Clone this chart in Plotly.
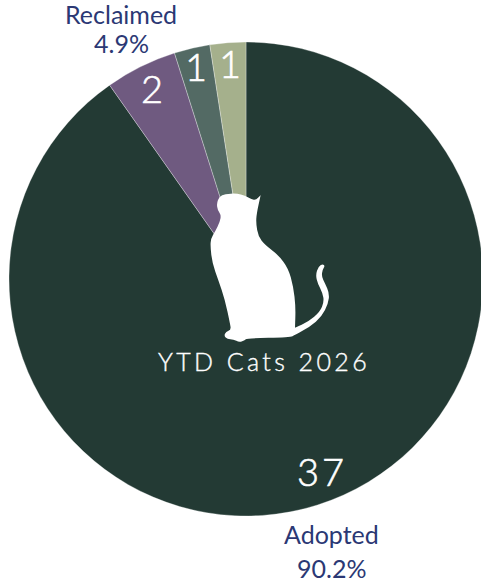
import plotly.graph_objects as go

outcomes = ["Adopted", "Reclaimed", "Outcome 3", "Outcome 4"]
counts = [37, 2, 1, 1]
slice_colors = ["#233a34", "#6f5a80", "#536a64", "#a5b08c"]
center_title = "YTD Cats 2026"
outside_names = ["Adopted", "Reclaimed"]
outside_shares = ["90.2%", "4.9%"]

W, H = 483, 583

def px(x): return x / W
def py(y): return 1 - y / H

# Cat outline, traced in pixels of the picture
cat = [(332,45),(332,45),(318,60),(305,58),(285,47),(260,40),(225,42),(208,50),(200,70),(203,90),(213,105),(210,125),
       (195,155),(183,175),(181,200),(187,250),(205,300),(225,360),(240,430),(243,450),(228,455),(222,468),
       (232,477),(250,478),(268,487),(285,480),(290,475),(420,472),(435,465),(480,440),(515,410),(535,370),
       (538,340),(525,310),(515,290),(517,270),(525,258),(518,252),(505,260),(497,285),(503,310),(518,340),
       (522,365),(510,395),(475,425),(435,443),(435,443),(437,380),(430,320),(415,265),(385,225),(345,195),(325,170),
       (318,130),(320,100),(332,45)]
pts = [(150 + a / 3, 180 + b / 3) for a, b in cat]
path = f"M {px(pts[0][0]):.5f} {py(pts[0][1]):.5f}"
for i in range(1, len(pts) - 1):
    mx = (pts[i][0] + pts[i + 1][0]) / 2
    my = (pts[i][1] + pts[i + 1][1]) / 2
    path += f" Q {px(pts[i][0]):.5f} {py(pts[i][1]):.5f} {px(mx):.5f} {py(my):.5f}"
path += f" L {px(pts[-1][0]):.5f} {py(pts[-1][1]):.5f} Z"

fig = go.Figure(go.Pie(
    labels=outcomes, values=counts, sort=False, direction="clockwise", rotation=0,
    marker=dict(colors=slice_colors, line=dict(color="rgba(255,255,255,0.6)", width=0.5)),
    textinfo="none", hoverinfo="label+value+percent", showlegend=False,
    domain=dict(x=[9 / W, 1], y=[1 - 516 / H, 1 - 42 / H]),
))

def note(text, x, y, size, color, weight=400):
    fig.add_annotation(text=text, x=px(x), y=py(y), xref="paper", yref="paper", showarrow=False,
                       xanchor="center", yanchor="middle",
                       font=dict(family="Lato", size=size, color=color, weight=weight))

for value, x, y in zip(counts, [322, 152, 196, 230], [471, 88, 66, 63]):
    note(str(value), x, y, 38, "white", 300)
note(outside_names[0], 331, 534, 25, "#2b3874")
note(outside_shares[0], 331, 568, 25, "#2b3874")
note(outside_names[1], 121, 14, 25, "#2b3874")
note(outside_shares[1], 121, 43, 25, "#2b3874")
note(center_title, 264, 361, 25, "white", 300)

fig.update_layout(
    width=W, height=H, margin=dict(l=0, r=0, t=0, b=0), paper_bgcolor="white",
    font=dict(family="Lato"),
    shapes=[dict(type="path", path=path, xref="paper", yref="paper",
                 fillcolor="white", line=dict(width=0), layer="above")],
)

post = """
document.documentElement.style.overflow='hidden';
document.body.style.margin='0';document.body.style.overflow='hidden';
document.querySelectorAll('.annotation-text').forEach(function(t){
  var s=t.textContent;
  if(s.indexOf('YTD')===0){t.style.letterSpacing='3.4px';t.style.stroke='white';t.style.strokeWidth='0.35px';}
  else if(/^[0-9]+$/.test(s)){t.style.stroke='white';t.style.strokeWidth='0.6px';if(s==='37'){t.style.letterSpacing='3px';}}
});
"""
fig.write_html("out.html", post_script=post, config={"displayModeBar": False})
